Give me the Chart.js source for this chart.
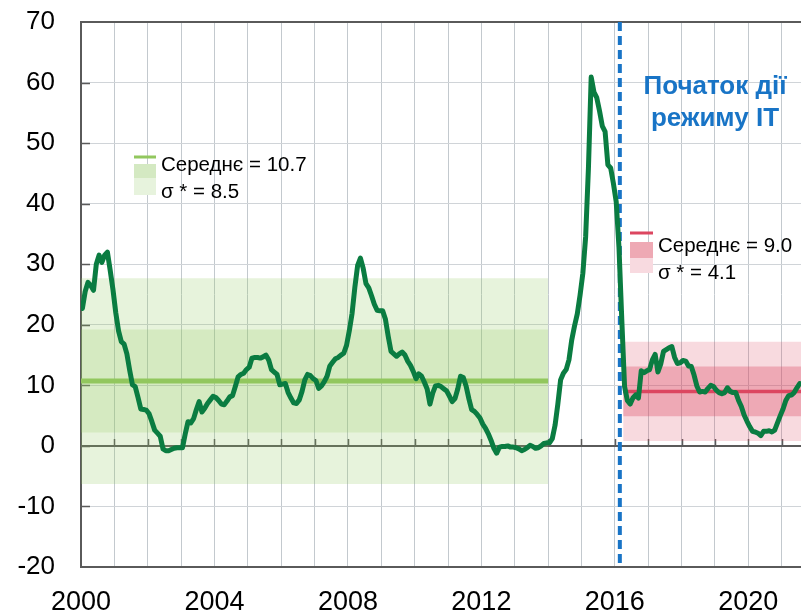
<!DOCTYPE html>
<html><head><meta charset="utf-8">
<script src="https://cdn.jsdelivr.net/npm/chart.js@4"></script>
<style>html,body{margin:0;padding:0;background:#fff}#wrap{width:801px;height:614px;position:relative}</style>
</head><body><div id="wrap"><canvas id="c" width="801" height="614"></canvas></div>
<script>
// ---- DATA (monthly year-on-year CPI, %) ----
const startYear = 2000;
const inflation = [
  22.7, 25.5, 27.0, 26.5, 25.7, 30.0, 31.5, 30.3, 31.5, 32.0, 29.0, 25.8, // 2000
  22.0, 19.0, 17.2, 16.8, 15.2, 12.5, 10.1, 9.8, 8.0, 6.1, 6.0, 5.9,     // 2001
  5.3, 4.0, 2.6, 2.1, 1.6, -0.5, -0.8, -0.8, -0.6, -0.4, -0.3, -0.3,    // 2002
  -0.3, 2.0, 4.0, 3.8, 4.5, 6.0, 7.3, 5.6, 6.2, 7.0, 7.6, 8.2,           // 2003
  8.0, 7.5, 6.9, 6.8, 7.4, 8.1, 8.3, 9.8, 11.4, 11.8, 12.0, 12.6,        // 2004
  13.0, 14.5, 14.6, 14.6, 14.5, 14.7, 15.0, 14.2, 12.6, 12.2, 11.8, 10.1, // 2005
  10.2, 10.3, 8.8, 7.9, 7.1, 7.0, 7.6, 9.0, 10.9, 11.8, 11.6, 11.1,      // 2006
  10.8, 9.5, 9.9, 10.6, 11.5, 13.2, 13.8, 14.4, 14.6, 15.0, 15.3, 16.6,  // 2007
  19.0, 21.9, 26.2, 29.8, 31.0, 29.3, 26.8, 26.1, 24.8, 23.4, 22.4, 22.3, // 2008
  22.3, 20.9, 18.1, 15.6, 15.2, 14.8, 15.2, 15.5, 15.0, 14.0, 13.3, 12.3, // 2009
  11.1, 11.9, 11.5, 10.5, 9.4, 6.9, 8.7, 9.9, 10.0, 9.8, 9.4, 9.1,       // 2010
  8.2, 7.3, 7.8, 9.4, 11.5, 11.3, 9.9, 7.8, 6.0, 5.7, 5.2, 4.6,          // 2011
  3.6, 2.9, 2.0, 0.9, -0.4, -1.2, -0.2, -0.1, -0.1, 0.0, -0.2, -0.2,     // 2012
  -0.3, -0.5, -0.8, -0.6, -0.3, 0.1, -0.1, -0.4, -0.3, 0.0, 0.4, 0.5,    // 2013
  0.5, 1.2, 3.4, 6.9, 10.9, 12.0, 12.6, 14.2, 17.5, 19.8, 21.8, 24.9,    // 2014
  28.5, 34.5, 45.8, 60.9, 58.4, 57.5, 55.3, 52.8, 51.9, 46.4, 45.9, 43.3, // 2015
  40.3, 32.7, 20.9, 9.8, 7.5, 6.9, 7.9, 8.4, 7.9, 12.4, 12.1, 12.4,      // 2016
  12.6, 14.2, 15.1, 12.2, 13.5, 15.6, 15.9, 16.2, 16.4, 14.6, 13.6, 13.7, // 2017
  14.1, 14.0, 13.2, 13.1, 11.7, 9.9, 8.9, 9.0, 8.9, 9.5, 10.0, 9.8,      // 2018
  9.2, 8.8, 8.6, 8.8, 9.6, 9.0, 8.8, 8.8, 7.5, 6.5, 5.1, 4.1,            // 2019
  3.2, 2.4, 2.3, 2.1, 1.7, 2.4, 2.4, 2.5, 2.3, 2.6, 3.8, 5.0,            // 2020
  6.1, 7.5, 8.3, 8.4, 8.8, 9.6, 10.3                                     // 2021
];
const xLabelYears = [2000, 2004, 2008, 2012, 2016, 2020];
const xMin = 2000, xMax = 2021.58;
const yMin = -20, yMax = 70, yStep = 10;

// periods with mean and standard deviation
const periodStart = [2000, 2016.25];
const periodEnd = [2014, 2021.58];
const periodMean = [10.7, 9.0];
const periodSigma = [8.5, 4.1];
const itStart = 2016.15;

const meanLabels = ['Середнє = 10.7', 'Середнє = 9.0'];
const sigmaLabels = ['σ * = 8.5', 'σ * = 4.1'];
const itLabel = ['Початок дії', 'режиму ІТ'];

// ---- build ----
const FONT = '"Liberation Sans", Arial, sans-serif';
const series = inflation.map((v, i) => ({ x: startYear + (i + 0.5) / 12, y: v }));
const hline = (p, v) => [{ x: periodStart[p], y: v }, { x: periodEnd[p], y: v }];

const greenLine = '#92c75e', greenFill = 'rgba(146,199,94,0.22)';
const redLine = '#dc4660', redLight = 'rgba(220,70,96,0.2)', redDark = 'rgba(220,70,96,0.33)';
const bandBase = { borderColor: 'rgba(0,0,0,0)', borderWidth: 0, pointRadius: 0, tension: 0 };

const datasets = [
  { data: series, borderColor: '#0a7c41', borderWidth: 5, pointRadius: 0, tension: 0,
    borderJoinStyle: 'round', borderCapStyle: 'round', fill: false, order: 0 },
  { data: [{ x: itStart, y: yMax }, { x: itStart, y: yMin }], borderColor: '#1874c6', borderWidth: 4,
    borderDash: [9, 5], pointRadius: 0, fill: false, order: 1 },
  { data: hline(0, periodMean[0]), borderColor: greenLine, borderWidth: 5, pointRadius: 0, fill: false, order: 2 },
  { data: hline(1, periodMean[1]), borderColor: redLine, borderWidth: 3.5, pointRadius: 0, fill: false, order: 2 },
  Object.assign({ data: hline(0, periodMean[0] + periodSigma[0]), fill: { value: periodMean[0] - periodSigma[0] },
    backgroundColor: greenFill, order: 3 }, bandBase),
  Object.assign({ data: hline(1, periodMean[1] + periodSigma[1]), fill: { value: periodMean[1] - periodSigma[1] },
    backgroundColor: redDark, order: 3 }, bandBase),
  Object.assign({ data: hline(0, periodMean[0] + 2 * periodSigma[0]), fill: { value: periodMean[0] - 2 * periodSigma[0] },
    backgroundColor: greenFill, order: 4 }, bandBase),
  Object.assign({ data: hline(1, periodMean[1] + 2 * periodSigma[1]), fill: { value: periodMean[1] - 2 * periodSigma[1] },
    backgroundColor: redLight, order: 4 }, bandBase)
];

const frame = {
  id: 'frame',
  beforeDatasetsDraw(chart) {
    const { ctx, chartArea: a, scales: { x, y } } = chart;
    const y0 = y.getPixelForValue(0);
    ctx.save();
    ctx.strokeStyle = '#5a5a5a';
    ctx.lineWidth = 2;
    ctx.beginPath();
    ctx.moveTo(a.left, a.top); ctx.lineTo(a.right, a.top);
    ctx.moveTo(a.left, a.bottom); ctx.lineTo(a.right, a.bottom);
    ctx.moveTo(a.left, a.top - 1); ctx.lineTo(a.left, a.bottom + 1);
    ctx.moveTo(a.left, y0); ctx.lineTo(a.right, y0);
    ctx.stroke();
    ctx.lineWidth = 1.5;
    ctx.beginPath();
    for (let yr = Math.ceil(xMin) + 1; yr <= xMax; yr++) {
      const px = Math.round(x.getPixelForValue(yr)) + 0.5;
      ctx.moveTo(px, y0); ctx.lineTo(px, y0 - 7);
    }
    for (let v = yMin + yStep; v < yMax; v += yStep) {
      const py = Math.round(y.getPixelForValue(v)) + 0.5;
      ctx.moveTo(a.left, py); ctx.lineTo(a.left + 9, py);
    }
    ctx.stroke();
    ctx.restore();
  },
  afterDraw(chart) {
    const { ctx } = chart;
    ctx.save();
    // green legend
    ctx.fillStyle = greenLine; ctx.fillRect(134, 155.5, 22, 3);
    ctx.fillStyle = '#d4e9c2'; ctx.fillRect(134, 164, 22, 14);
    ctx.fillStyle = '#e7f3dd'; ctx.fillRect(134, 178, 22, 17);
    // red legend
    ctx.fillStyle = redLine; ctx.fillRect(630, 231.5, 23, 3);
    ctx.fillStyle = '#eea9b4'; ctx.fillRect(630, 242, 23, 16);
    ctx.fillStyle = '#f8dae0'; ctx.fillRect(630, 258, 23, 15);
    ctx.fillStyle = '#000';
    ctx.font = '20.5px ' + FONT;
    ctx.textAlign = 'left'; ctx.textBaseline = 'middle';
    ctx.fillText(meanLabels[0], 161, 165);
    ctx.fillText(sigmaLabels[0], 161, 192);
    ctx.fillText(meanLabels[1], 658, 246);
    ctx.fillText(sigmaLabels[1], 658, 273);
    // IT label
    ctx.fillStyle = '#1874c6';
    ctx.font = 'bold 26px ' + FONT;
    ctx.textAlign = 'center';
    ctx.fillText(itLabel[0], 715, 87);
    ctx.fillText(itLabel[1], 715, 119);
    ctx.restore();
  }
};

new Chart(document.getElementById('c'), {
  type: 'line',
  data: { datasets },
  options: {
    responsive: false, animation: false, devicePixelRatio: 1,
    layout: { padding: { top: 22, right: 0, bottom: 0, left: 0 } },
    plugins: { legend: { display: false }, tooltip: { enabled: false } },
    scales: {
      x: {
        type: 'linear', min: xMin, max: xMax,
        afterFit(s) { s.height = 47; s.paddingLeft = 0; s.paddingRight = 0; },
        grid: { color: '#c3c9ce', lineWidth: 1, drawTicks: false },
        border: { display: false },
        ticks: {
          stepSize: 1, autoSkip: false, maxRotation: 0, minRotation: 0, includeBounds: false,
          padding: 19, color: '#000', font: { family: FONT, size: 27 },
          callback: (v) => xLabelYears.includes(v) ? String(v) : ''
        }
      },
      y: {
        min: yMin, max: yMax,
        afterFit(s) { s.width = 81; s.paddingTop = 0; s.paddingBottom = 0; },
        grid: { color: '#d0d4d8', lineWidth: 1, drawTicks: false },
        border: { display: false },
        ticks: { stepSize: yStep, padding: 26, color: '#000', font: { family: FONT, size: 26 },
          callback: (v) => String(v) }
      }
    }
  },
  plugins: [frame]
});
</script>
</body></html>
